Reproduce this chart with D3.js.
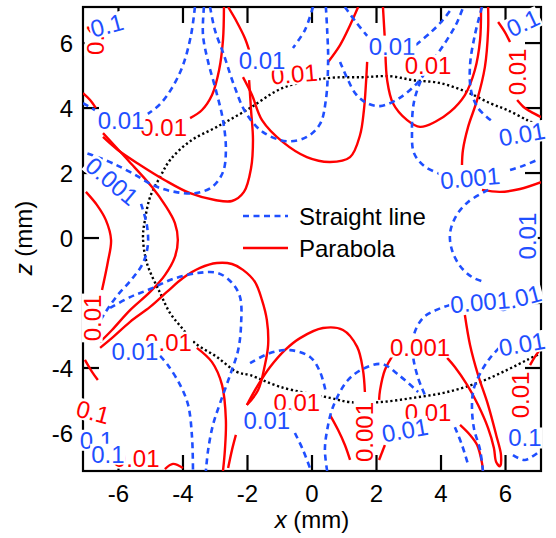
<!DOCTYPE html>
<html><head><meta charset="utf-8">
<script src="https://cdn.jsdelivr.net/npm/d3@7"></script>
<style>body{margin:0;background:#fff}</style>
</head><body><svg id="c" width="556" height="538"></svg>
<script>
const xTicks=[-6,-4,-2,0,2,4,6];
const zTicks=[-6,-4,-2,0,2,4,6];
const seriesNames=["Straight line","Parabola"];
// contour lines of the "Straight line" case (x, z in mm)
const straightCurves=[
 [[-3.63,7.11],[-3.75,6.25],[-4.00,5.32],[-4.34,4.62],[-4.71,4.12],[-5.09,3.82]],
 [[-7.10,4.15],[-6.73,3.94]],
 [[-3.35,7.11],[-3.38,6.25],[-3.22,5.42],[-2.98,4.55],[-2.76,3.63],[-2.67,2.71],[-2.76,2.03],[-3.10,1.57],[-3.63,1.38],[-4.25,1.42],[-4.87,1.60],[-5.58,2.00],[-6.20,2.31],[-6.73,2.52],[-7.10,2.65]],
 [[-3.16,7.11],[-3.01,6.40],[-2.73,5.63],[-2.42,4.71],[-2.05,3.85],[-1.52,3.26],[-0.78,2.98],[-0.16,3.11],[0.25,3.51],[0.43,4.25],[0.50,5.48],[0.47,6.40],[0.43,7.11]],
 [[0.03,7.11],[-0.22,6.40],[-0.59,5.85]],
 [[1.02,7.11],[1.36,6.65],[1.71,6.22]],
 [[0.87,5.42],[1.09,4.92],[1.36,4.43],[1.71,4.15],[2.11,4.06],[2.67,4.28],[3.29,4.80],[3.72,5.42],[4.16,6.06],[4.47,6.58],[4.68,7.08]],
 [[3.22,5.94],[3.66,6.31],[4.06,6.71],[4.34,7.08]],
 [[3.66,5.42],[3.38,4.86],[3.16,4.18],[3.10,3.32],[3.16,2.62],[3.47,2.22],[3.97,1.97]],
 [[5.27,7.11],[5.05,6.25],[4.90,5.32],[4.93,4.55],[5.15,4.00],[5.61,3.57]],
 [[6.14,2.09],[6.54,2.22],[6.98,2.40]],
 [[5.46,1.48],[4.84,1.11],[4.47,0.68],[4.28,0.15],[4.34,-0.37],[4.59,-0.86],[4.96,-1.20],[5.33,-1.35]],
 [[4.28,-2.06],[3.84,-2.22],[3.44,-2.46],[3.16,-2.98],[3.13,-3.60],[3.29,-4.31],[3.50,-4.83]],
 [[0.47,-7.17],[0.40,-6.52],[0.47,-5.91],[0.65,-5.20],[1.09,-4.40],[1.58,-4.03],[2.17,-3.88],[2.73,-4.25],[3.29,-4.74]],
 [[5.30,-7.17],[5.21,-6.52],[5.02,-5.85],[4.96,-5.14],[5.02,-4.62],[5.24,-4.12],[5.52,-3.69],[5.83,-3.35]],
 [[-6.26,-2.15],[-5.64,-1.82],[-5.02,-1.57],[-4.31,-1.26],[-3.57,-1.08],[-2.91,-1.08],[-2.48,-1.38],[-2.23,-1.82],[-2.20,-2.68],[-2.29,-3.45],[-2.54,-4.22],[-2.85,-5.08],[-3.07,-5.75],[-3.22,-6.52],[-3.29,-7.17]],
 [[-4.71,-3.63],[-4.47,-3.91],[-4.09,-4.52],[-3.84,-5.14],[-3.72,-6.12],[-3.69,-7.17]],
 [[-5.30,1.05],[-5.12,0.40],[-5.09,-0.22],[-5.24,-0.77],[-5.58,-1.26],[-6.02,-1.75],[-6.42,-2.31],[-6.73,-2.83]],
 [[-1.92,-3.85],[-1.30,-3.54],[-0.68,-3.45],[-0.06,-3.66],[0.25,-4.12],[0.43,-4.74]],
 [[-0.53,-6.00],[-0.28,-6.52],[-0.03,-7.17]],
 [[4.43,-5.82],[4.65,-6.37],[4.84,-6.98]],
 [[6.23,-6.68],[6.60,-6.83],[6.98,-6.62]]
];
// contour lines of the "Parabola" case (x, z in mm)
const parabolaCurves=[
 [[-2.73,7.11],[-2.76,6.09],[-2.88,5.17],[-3.10,4.40],[-3.41,3.94],[-3.78,3.69]],
 [[-2.60,7.11],[-2.33,6.65],[-2.08,6.15],[-1.95,5.78]],
 [[-1.95,4.86],[-1.89,3.94],[-1.83,3.02],[-1.89,2.15],[-2.11,1.42],[-2.48,1.14],[-3.01,1.17],[-3.78,1.38],[-4.56,1.78],[-5.33,2.25],[-6.02,2.71],[-6.48,3.11]],
 [[-7.10,4.46],[-6.88,4.25],[-6.70,4.00]],
 [[-2.14,4.95],[-1.86,4.40],[-1.55,3.63],[-0.90,2.95],[-0.16,2.49],[0.56,2.34],[1.18,2.49],[1.49,3.17],[1.61,3.94],[1.67,4.71],[1.71,5.42]],
 [[1.43,7.11],[1.18,6.55],[0.87,5.94],[0.50,5.42]],
 [[2.20,7.11],[2.26,6.09],[2.33,4.86],[2.51,4.15],[2.95,3.63],[3.35,3.42],[3.81,3.57],[4.28,3.88],[4.74,4.40],[5.05,5.17],[5.21,6.09],[5.24,7.11]],
 [[5.46,7.11],[5.46,6.40],[5.36,5.26],[5.12,4.25],[4.84,3.42],[4.68,2.71],[4.65,2.25]],
 [[5.27,1.48],[5.83,1.42],[6.45,1.51],[7.10,1.72]],
 [[5.77,6.65],[5.98,6.34],[6.14,6.03]],
 [[6.36,4.25],[6.60,4.00],[6.91,3.82],[7.10,3.72]],
 [[-6.48,3.23],[-5.71,2.40],[-4.96,1.57],[-4.56,1.02],[-4.25,0.46],[-4.16,-0.06],[-4.25,-0.58],[-4.56,-1.14],[-5.02,-1.66],[-5.64,-2.22],[-6.20,-2.83],[-6.57,-3.20]],
 [[-7.01,1.42],[-6.67,1.02],[-6.39,0.55],[-6.23,-0.06],[-6.33,-0.74],[-6.51,-1.60]],
 [[-6.57,-3.38],[-6.17,-3.05],[-5.64,-2.58],[-5.02,-2.12],[-4.50,-1.66],[-4.00,-1.23],[-3.47,-0.92],[-2.95,-0.77],[-2.48,-0.80],[-2.14,-0.98],[-1.77,-1.35],[-1.55,-1.91],[-1.40,-2.52],[-1.36,-3.29],[-1.46,-3.91],[-1.67,-4.68],[-2.02,-5.14]],
 [[-2.02,-5.14],[-1.67,-4.52],[-1.30,-3.97],[-0.84,-3.45],[-0.37,-3.08],[0.34,-2.77],[0.96,-2.83],[1.40,-3.35],[1.58,-4.06],[1.64,-4.74]],
 [[-3.57,-3.38],[-3.10,-3.82],[-2.79,-4.52],[-2.67,-5.60],[-2.70,-6.52],[-2.76,-7.17]],
 [[-4.56,-7.11],[-4.31,-6.95],[-4.00,-7.08]],
 [[0.56,-5.45],[0.81,-5.91],[1.02,-6.37],[1.18,-6.83]],
 [[2.57,-3.51],[2.26,-4.06],[2.11,-4.68],[2.08,-4.98]],
 [[2.08,-6.83],[2.26,-6.37]],
 [[4.74,-2.37],[4.90,-3.29],[5.15,-4.22],[5.46,-5.14],[5.71,-6.06],[5.86,-6.68],[5.83,-7.02],[5.71,-6.89],[5.64,-6.46],[5.46,-5.85],[5.15,-5.14],[4.81,-4.52],[4.43,-3.97],[4.19,-3.69]],
 [[4.59,-5.75],[4.90,-6.06],[5.12,-6.37],[5.27,-6.92],[5.30,-7.17]],
 [[7.10,-3.38],[6.91,-3.66],[6.76,-3.91]],
 [[6.54,-1.54],[6.91,-1.69]],
 [[-7.04,-3.75],[-6.82,-4.12],[-6.64,-4.37]],
 [[-2.60,-7.08],[-2.48,-6.52],[-2.36,-6.06]]
];
// dotted boundary curve (x, z in mm)
const boundary=[[7.10,3.42],[6.67,3.63],[6.05,3.94],[5.52,4.15],[4.81,4.49],[3.97,4.77],[3.13,4.86],[2.42,4.98],[1.58,4.95],[0.47,4.92],[-0.90,4.62],[-2.02,3.94],[-2.95,3.42],[-3.78,2.98],[-4.40,2.40],[-4.71,1.88],[-5.02,1.26],[-5.18,0.55],[-5.24,0.03],[-5.12,-0.77],[-4.71,-1.69],[-4.40,-2.31],[-4.03,-2.77],[-3.63,-3.23],[-2.95,-3.66],[-2.33,-4.12],[-1.92,-4.22],[-0.99,-4.58],[0.56,-4.92],[1.18,-5.05],[2.11,-5.05],[3.13,-4.92],[4.19,-4.74],[5.21,-4.43],[6.05,-4.06],[6.67,-3.75],[7.10,-3.54]];
// contour level labels: x, z, text, series (0 straight, 1 parabola), angle
const contourLabels=[
 [-6.73,6.15,"0.1",1,-90],
 [-6.36,6.55,"0.1",0,-15],
 [-4.60,3.42,"0.01",1,0],
 [-5.92,3.63,"0.01",0,0],
 [-6.20,1.75,"0.001",0,40],
 [-0.55,5.05,"0.01",1,-5],
 [-1.55,5.48,"0.01",0,0],
 [2.48,5.91,"0.01",0,0],
 [3.60,5.32,"0.01",1,0],
 [6.54,6.62,"0.1",0,-25],
 [6.36,5.11,"0.01",1,-90],
 [6.51,3.20,"0.01",0,-10],
 [4.90,1.85,"0.001",0,-5],
 [6.67,0.06,"0.01",0,-90],
 [6.40,-1.85,"0.01",0,-15],
 [5.21,-1.97,"0.001",0,-5],
 [3.35,-3.35,"0.001",1,0],
 [6.51,-3.26,"0.01",0,-10],
 [6.45,-4.83,"0.01",1,-90],
 [3.60,-5.38,"0.01",1,0],
 [2.88,-5.91,"0.01",0,-10],
 [6.60,-6.15,"0.1",0,0],
 [1.61,-5.97,"0.001",1,-90],
 [-0.47,-5.05,"0.01",1,0],
 [-1.40,-5.60,"0.01",0,0],
 [-4.45,-3.20,"0.01",1,0],
 [-5.49,-3.48,"0.01",0,0],
 [-6.82,-2.46,"0.01",1,-90],
 [-6.79,-5.35,"0.1",1,15],
 [-5.45,-6.77,"0.01",1,0],
 [-6.68,-6.22,"0.1",0,0],
 [-6.33,-6.65,"0.1",0,0]
];

const colors=["#1f4fff","#ff0000"];
const svg=d3.select("#c");
const font="Liberation Sans, Arial, sans-serif";
const L=83,R=541,T=7,B=471;
const x=d3.scaleLinear().domain([-7.1,7.1]).range([L,R]);
const y=d3.scaleLinear().domain([-7.17,7.11]).range([B,T]);
const tickLen=16;

// frame and ticks
const ax=svg.append("g").attr("stroke","#000").attr("stroke-width",2.2);
ax.append("rect").attr("x",L).attr("y",T).attr("width",R-L).attr("height",B-T).attr("fill","none");
xTicks.forEach(t=>{
  ax.append("line").attr("x1",x(t)).attr("x2",x(t)).attr("y1",B).attr("y2",B-tickLen);
  ax.append("line").attr("x1",x(t)).attr("x2",x(t)).attr("y1",T).attr("y2",T+tickLen);
});
zTicks.forEach(t=>{
  ax.append("line").attr("y1",y(t)).attr("y2",y(t)).attr("x1",L).attr("x2",L+tickLen);
  ax.append("line").attr("y1",y(t)).attr("y2",y(t)).attr("x1",R).attr("x2",R-tickLen);
});

svg.append("clipPath").attr("id","clip").append("rect").attr("x",L).attr("y",T).attr("width",R-L).attr("height",B-T);
const plot=svg.append("g").attr("clip-path","url(#clip)");
const line=d3.line().x(d=>x(d[0])).y(d=>y(d[1])).curve(d3.curveCatmullRom.alpha(0.5));

plot.append("path").attr("d",line(boundary)).attr("fill","none").attr("stroke","#000")
  .attr("stroke-width",2.4).attr("stroke-dasharray","2.2,2.6");
plot.selectAll("path.p").data(parabolaCurves).join("path").attr("class","p")
  .attr("d",line).attr("fill","none").attr("stroke",colors[1]).attr("stroke-width",2.4);
plot.selectAll("path.s").data(straightCurves).join("path").attr("class","s")
  .attr("d",line).attr("fill","none").attr("stroke",colors[0]).attr("stroke-width",2.6)
  .attr("stroke-dasharray","6,4.5");

// contour labels with white background
const lg=svg.append("g");
contourLabels.forEach(([lx,lz,t,s,a])=>{
  const g=lg.append("g").attr("transform",`translate(${x(lx)},${y(lz)}) rotate(${a})`);
  const r=g.append("rect").attr("fill","#fff");
  const tx=g.append("text").attr("text-anchor","middle").attr("dy","0.36em")
    .attr("font-family",font).attr("font-size",24).attr("fill",colors[s]).text(t);
  const b=tx.node().getBBox();
  r.attr("x",b.x-1).attr("y",b.y+3).attr("width",b.width+2).attr("height",b.height-6);
});

// tick labels
xTicks.forEach(t=>svg.append("text").attr("x",x(t)).attr("y",502).attr("text-anchor","middle")
  .attr("font-family",font).attr("font-size",24).text(t));
zTicks.forEach(t=>svg.append("text").attr("x",73).attr("y",y(t)).attr("dy","0.36em").attr("text-anchor","end")
  .attr("font-family",font).attr("font-size",24).text(t));
// axis titles
const xt=svg.append("text").attr("x",312).attr("y",528).attr("text-anchor","middle").attr("font-family",font).attr("font-size",24);
xt.append("tspan").attr("font-style","italic").text("x");
xt.append("tspan").text(" (mm)");
const zt=svg.append("text").attr("transform","translate(32,238) rotate(-90)").attr("text-anchor","middle").attr("font-family",font).attr("font-size",24);
zt.append("tspan").attr("font-style","italic").text("z");
zt.append("tspan").text(" (mm)");

// legend
const leg=svg.append("g");
seriesNames.forEach((n,i)=>{
  const yy=216+i*32;
  leg.append("line").attr("x1",243).attr("x2",288).attr("y1",yy).attr("y2",yy)
    .attr("stroke",colors[i]).attr("stroke-width",i?2.4:2.6).attr("stroke-dasharray",i?null:"6,4.5");
  leg.append("text").attr("x",299).attr("y",yy).attr("dy","0.36em").attr("font-family",font).attr("font-size",24).text(n);
});
</script></body></html>
